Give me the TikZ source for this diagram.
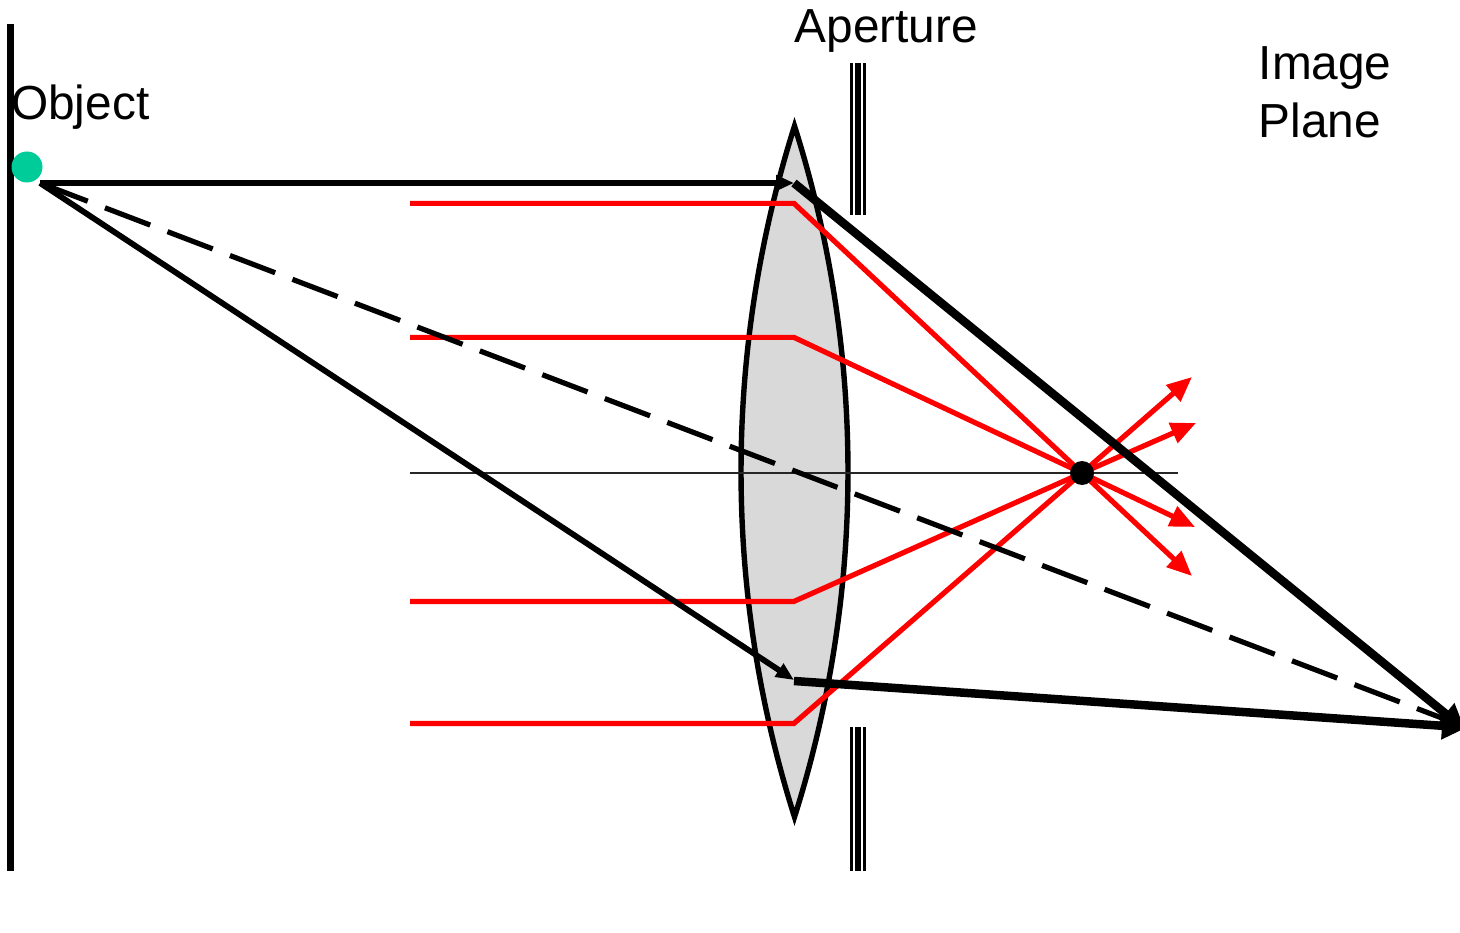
\documentclass[tikz,border=0pt]{standalone}
\usepackage{fontspec}
\setmainfont{Liberation Sans}
\usetikzlibrary{arrows.meta}
\definecolor{lensgray}{HTML}{D9D9D9}
\definecolor{objgreen}{HTML}{00CC99}
\definecolor{rayred}{HTML}{FF0000}
\tikzset{
  label text/.style={inner sep=0pt,anchor=base west,font=\fontsize{47.8}{58}\selectfont,text=black},
  lens shape/.style={draw=black,line width=5.4pt,fill=lensgray,miter limit=20},
  red ray/.style={draw=rayred,line width=5.2pt,line join=miter},
  red out/.style={draw=rayred,line width=5.2pt,-{Triangle[length=25pt,width=21pt]}},
  axis line/.style={draw=black!85,line width=2.6pt},
  wall/.style={draw=black,line width=6.4pt},
  thin ray/.style={draw=black,line width=5.8pt,-{Triangle[length=18pt,width=15pt]}},
  thick ray/.style={draw=black,line width=8.5pt,-{Triangle[length=25pt,width=26pt]}},
  dash ray/.style={draw=black,line width=5.2pt,dash pattern=on 48.4pt off 18.47pt,dash phase=64.17pt},
  bar thin/.style={draw=none,fill=black},
  dot/.style={circle,inner sep=0pt,draw=none},
}
\begin{document}
\begin{tikzpicture}[x=1pt,y=-1pt]
\useasboundingbox (0,0) rectangle (1460,933);
% lens
\draw[lens shape] (794.5,126) .. controls (723.2,351) and (723.2,592) .. (794.5,817)
  .. controls (865.8,592) and (865.8,351) .. cycle;
% aperture
\foreach \ya/\yb in {63/215,727/871}{
  \fill[bar thin] (850,\ya) rectangle (852.8,\yb);
  \fill[bar thin] (855,\ya) rectangle (860.8,\yb);
  \fill[bar thin] (863.2,\ya) rectangle (866,\yb);
}
% named points
\coordinate (wallT) at (10.5,24);
\coordinate (wallB) at (10.5,871);
\coordinate (src) at (40,183);
\coordinate (axL) at (410,473);
\coordinate (axR) at (1178,473);
\coordinate (r1a) at (410,203.4); \coordinate (r1b) at (794,203.4);
\coordinate (r2a) at (410,337.4); \coordinate (r2b) at (794,337.4);
\coordinate (r3a) at (410,601.4); \coordinate (r3b) at (794,601.4);
\coordinate (r4a) at (410,723.4); \coordinate (r4b) at (794,723.4);
\coordinate (o1) at (1192,377);
\coordinate (o2) at (1196,423);
\coordinate (o3) at (1195,527);
\coordinate (o4) at (1192,576);
\coordinate (lensTop) at (794,183);
\coordinate (lensLow) at (794,680);
\coordinate (img) at (1467,727.5);
\coordinate (imgT) at (1465,729.5);
\coordinate (dashEnd) at (1462,725.7);
\coordinate (focus) at (1082,473);
% walls and axis
\draw[wall] (wallT) -- (wallB);
\draw[axis line] (axL) -- (axR);
% red rays
\draw[red ray] (r1a) -- (r1b) -- (focus);
\draw[red ray] (r2a) -- (r2b) -- (focus);
\draw[red ray] (r3a) -- (r3b) -- (focus);
\draw[red ray] (r4a) -- (r4b) -- (focus);
\draw[red out] (focus) -- (o1);
\draw[red out] (focus) -- (o2);
\draw[red out] (focus) -- (o3);
\draw[red out] (focus) -- (o4);
% black rays
\draw[thin ray] (src) -- (lensTop);
\draw[thin ray] (src) -- (lensLow);
\draw[dash ray] (src) -- (dashEnd);
\draw[thick ray] (lensTop) -- (imgT);
\draw[thick ray] ([yshift=-1pt]lensLow) -- (img);
% dots
\node[dot,fill=black,minimum size=24pt] (focusdot) at (focus) {};
\node[dot,fill=objgreen,minimum size=31pt] (objdot) at (27,167) {};
% labels
\node[label text] (aperture) at (794.5,43) {Aperture};
\node[label text] (object) at (11,120) {Object};
\node[label text] (image) at (1258.5,79.5) {Image};
\node[label text] (plane) at (1258.5,137.5) {Plane};
\end{tikzpicture}
\end{document}
